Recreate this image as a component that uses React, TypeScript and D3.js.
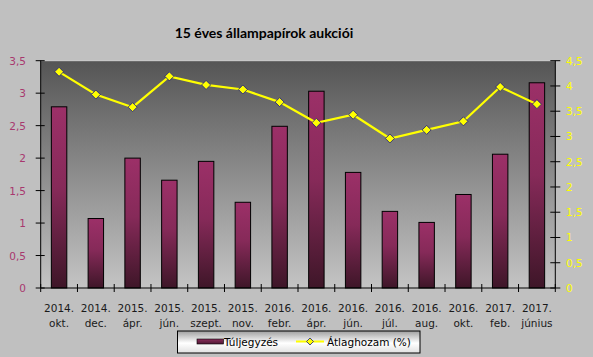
import React from "react";
import * as d3 from "d3";

const categories: string[][] = [
  ["2014.", "okt."], ["2014.", "dec."], ["2015.", "ápr."], ["2015.", "jún."],
  ["2015.", "szept."], ["2015.", "nov."], ["2016.", "febr."], ["2016.", "ápr."],
  ["2016.", "jún."], ["2016.", "júl."], ["2016.", "aug."], ["2016.", "okt."],
  ["2017.", "feb."], ["2017.", "június"],
];
const tuljegyzes: number[] = [2.79, 1.07, 2.0, 1.66, 1.95, 1.32, 2.49, 3.03, 1.78, 1.18, 1.01, 1.44, 2.06, 3.16];
const atlaghozam: number[] = [4.28, 3.83, 3.58, 4.19, 4.02, 3.93, 3.68, 3.27, 3.43, 2.96, 3.13, 3.30, 3.98, 3.64];
const leftTicks: number[] = [0, 0.5, 1, 1.5, 2, 2.5, 3, 3.5];
const rightTicks: number[] = [0, 0.5, 1, 1.5, 2, 2.5, 3, 3.5, 4, 4.5];
const title = "15 éves állampapírok aukciói";
const seriesNames = ["Túljegyzés", "Átlaghozam (%)"];

const W = 593, H = 357;
const L = 40.7, R = 555.3, T = 60.7, B = 288;
const font = "'DejaVu Sans', Tahoma, sans-serif";

export default function App() {
  const keys = categories.map((_, i) => String(i));
  const x = d3.scaleBand<string>().domain(keys).range([L, R]).padding(0);
  const yL = d3.scaleLinear().domain([0, 3.5]).range([B, T]);
  const yR = d3.scaleLinear().domain([0, 4.5]).range([B, T]);
  const bw = x.bandwidth() * 0.42;
  const cx = (i: number) => (x(String(i)) as number) + x.bandwidth() / 2;
  const line = d3.line<number>().x((_, i) => cx(i)).y((d) => yR(d));
  const fmt = (v: number) => String(v).replace(".", ",");
  const diamond = (px: number, py: number, s: number) =>
    `M${px},${py - s}L${px + s},${py}L${px},${py + s}L${px - s},${py}Z`;

  return (
    <svg width={W} height={H} style={{ position: "absolute", left: 0, top: 0 }} fontFamily={font}>
      <defs>
        <linearGradient id="plotbg" x1="0" y1="0" x2="0" y2="1">
          <stop offset="0" stopColor="#555555" />
          <stop offset="1" stopColor="#c4c4c4" />
        </linearGradient>
        <linearGradient id="bar" x1="0" y1="0" x2="0" y2="1">
          <stop offset="0" stopColor="#9c3068" />
          <stop offset="0.45" stopColor="#862a59" />
          <stop offset="1" stopColor="#3e1628" />
        </linearGradient>
        <linearGradient id="legbg" x1="0" y1="0" x2="0" y2="1">
          <stop offset="0" stopColor="#a0a0a0" />
          <stop offset="0.55" stopColor="#ffffff" />
          <stop offset="1" stopColor="#e0e0e0" />
        </linearGradient>
        <linearGradient id="legsw" x1="0" y1="0" x2="0" y2="1">
          <stop offset="0" stopColor="#8a2d5b" />
          <stop offset="1" stopColor="#4e1a34" />
        </linearGradient>
      </defs>
      <rect x={0} y={0} width={W} height={H} fill="#c0c0c0" />
      <text x={264} y={38} textAnchor="middle" fontWeight="bold" fontSize={14} fontFamily="Lato, 'DejaVu Sans', sans-serif" fill="#000">{title}</text>
      <rect x={L} y={T} width={R - L} height={B - T} fill="url(#plotbg)" />
      <line x1={L} x2={R} y1={T} y2={T} stroke="#d0d0d0" strokeWidth={1} />
      {tuljegyzes.map((v, i) => (
        <rect key={i} x={cx(i) - bw / 2} y={yL(v)} width={bw} height={B - yL(v)}
          fill="url(#bar)" stroke="#000" strokeWidth={1} />
      ))}
      <path d={line(atlaghozam) || ""} fill="none" stroke="#ffff00" strokeWidth={2.2} />
      {atlaghozam.map((v, i) => (
        <path key={i} d={diamond(cx(i), yR(v), 4.5)} fill="#ffff00" stroke="#1a1a80" strokeWidth={0.8} />
      ))}
      {/* left axis */}
      <line x1={L} x2={L} y1={T} y2={B} stroke="#000" />
      {leftTicks.map((t) => (
        <g key={t}>
          <line x1={L - 5} x2={L + 4} y1={yL(t)} y2={yL(t)} stroke="#000" />
          <text x={26} y={yL(t) + 4} textAnchor="end" fontSize={10.5} fill="#a8386e">{fmt(t)}</text>
        </g>
      ))}
      {/* right axis */}
      <line x1={R} x2={R} y1={T} y2={B} stroke="#000" />
      {rightTicks.map((t) => (
        <g key={t}>
          <line x1={R - 5} x2={R + 5} y1={yR(t)} y2={yR(t)} stroke="#000" />
          <text x={566} y={yR(t) + 4} textAnchor="start" fontSize={10.5} fill="#ffff00">{fmt(t)}</text>
        </g>
      ))}
      {/* x axis */}
      <line x1={L} x2={R} y1={B} y2={B} stroke="#000" />
      {d3.range(categories.length + 1).map((i) => {
        const xx = L + i * x.step();
        return <line key={i} x1={xx} x2={xx} y1={B - 4} y2={B + 4} stroke="#000" />;
      })}
      {categories.map((c, i) => (
        <text key={i} x={cx(i)} textAnchor="middle" fontSize={10.5} fill="#1a1a1a">
          <tspan x={cx(i)} y={312}>{c[0]}</tspan>
          <tspan x={cx(i)} y={327}>{c[1]}</tspan>
        </text>
      ))}
      {/* legend */}
      <rect x={177.5} y={331} width={242.5} height={22} fill="url(#legbg)" stroke="#000" strokeWidth={1} />
      <rect x={197} y={339} width={26.5} height={5} fill="url(#legsw)" stroke="#000" strokeWidth={0.6} />
      <text x={224} y={346} fontSize={10.5} fill="#000">{seriesNames[0]}</text>
      <line x1={296} x2={324} y1={341.5} y2={341.5} stroke="#ffff00" strokeWidth={2} />
      <path d={diamond(310, 341.5, 3.5)} fill="#ffff00" stroke="#1a1a80" strokeWidth={0.8} />
      <text x={327} y={346} fontSize={10.5} fill="#000">{seriesNames[1]}</text>
    </svg>
  );
}
